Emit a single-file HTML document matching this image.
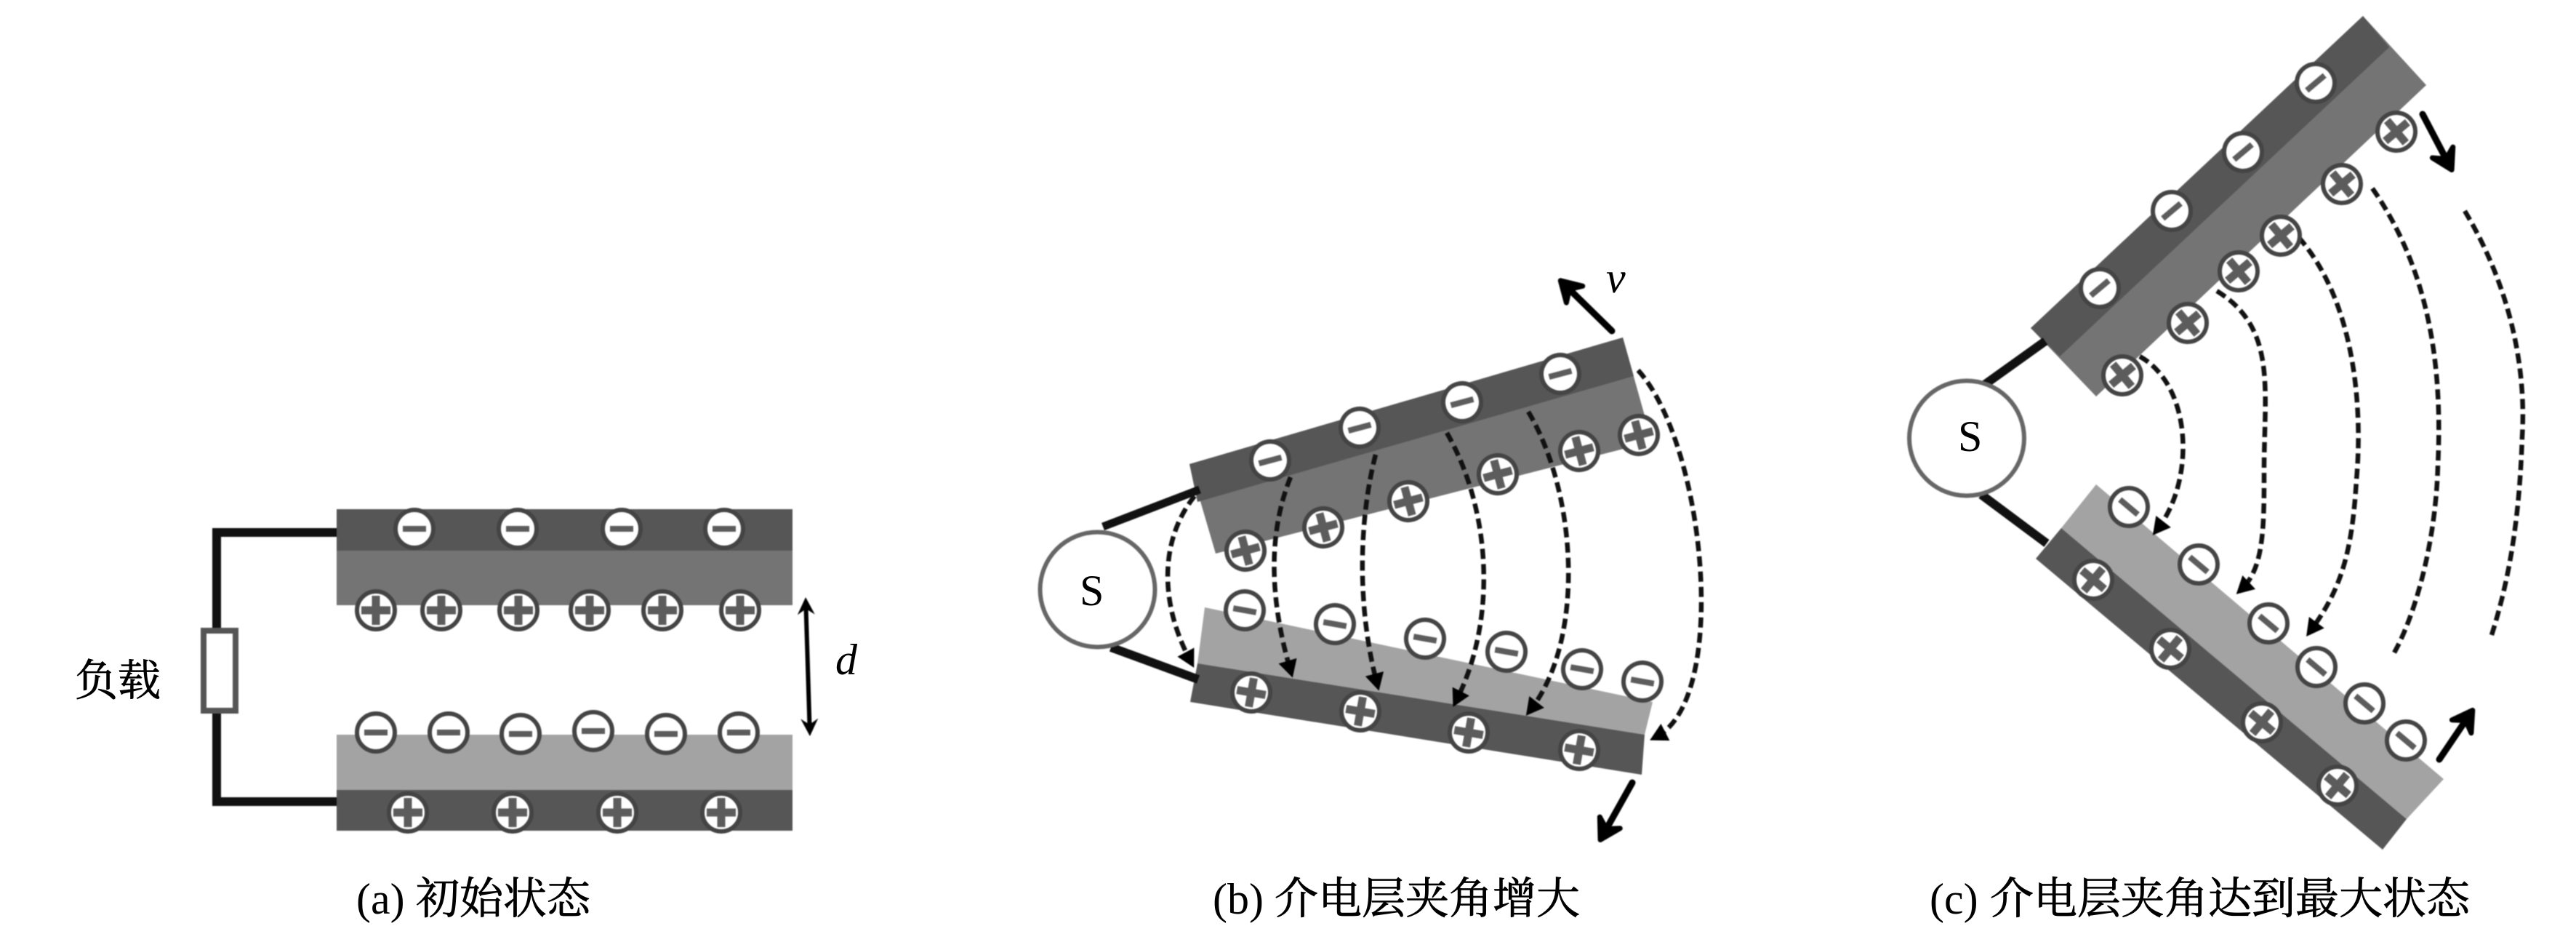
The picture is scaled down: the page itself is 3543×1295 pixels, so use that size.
<!DOCTYPE html>
<html lang="zh"><head><meta charset="utf-8"><title>介电层夹角</title>
<style>
html,body{margin:0;padding:0;background:#fff;width:3543px;height:1295px;overflow:hidden}
svg{display:block}
text{font-family:"Liberation Serif","Noto Serif CJK SC",serif;fill:#000}
.c{stroke:#000;stroke-width:.8px}
.d{fill:none;stroke:#111;stroke-width:6.500;stroke-dasharray:14 7}
.w{stroke:#111;fill:none}
.a{stroke:#000;stroke-width:9;fill:none;stroke-linecap:round}
.g{filter:blur(.7px)}
</style></head><body>
<svg width="3543" height="1295" viewBox="0 0 3543 1295" xmlns="http://www.w3.org/2000/svg">
<defs>
<marker id="t" viewBox="-28 -16 30 32" refX="-10" refY="0" markerWidth="30" markerHeight="32" markerUnits="userSpaceOnUse" orient="auto"><path d="M-24 -13L0 0L-24 13Z" fill="#000"/></marker>
<marker id="h" viewBox="-38 -24 42 48" refX="-12" refY="0" markerWidth="42" markerHeight="48" markerUnits="userSpaceOnUse" orient="auto"><path d="M-31 -16L-4 0L-31 16L-21 0Z" fill="#000" stroke="#000" stroke-width="7" stroke-linejoin="round"/></marker>
<marker id="h2" viewBox="-28 -16 30 32" refX="-8" refY="0" markerWidth="30" markerHeight="32" markerUnits="userSpaceOnUse" orient="auto-start-reverse"><path d="M-24 -12L0 0L-24 12L-16 0Z" fill="#000"/></marker>
<g id="m"><circle r="26" fill="#fff" stroke="#444" stroke-width="6"/><rect x="-16" y="-4" width="32" height="8" fill="#5c5c5c"/></g>
<g id="p"><circle r="26" fill="#fff" stroke="#444" stroke-width="6"/><rect x="-20" y="-5.500" width="40" height="11" fill="#5c5c5c"/><rect x="-5.500" y="-20" width="11" height="40" fill="#5c5c5c"/></g>
</defs>
<rect width="3543" height="1295" fill="#fff"/>

<!-- Panel a -->
<g class="g">
<path class="w" d="M463 732H298V863M298 981V1102H463" stroke-width="12"/>
<rect x="292" y="726" width="171" height="12" fill="#111"/>
<rect x="292" y="1096" width="171" height="12" fill="#111"/>
<rect x="280" y="867" width="44" height="110" fill="#fff" stroke="#555" stroke-width="8"/>
<rect x="463" y="700" width="627" height="57" fill="#565656"/>
<rect x="463" y="757" width="627" height="75" fill="#747474"/>
<rect x="463" y="1010" width="627" height="76" fill="#a3a3a3"/>
<rect x="463" y="1086" width="627" height="56" fill="#565656"/>
<use href="#m" x="570" y="727"/><use href="#m" x="712" y="727"/><use href="#m" x="855" y="727"/><use href="#m" x="996" y="727"/>
<use href="#p" x="517" y="839"/><use href="#p" x="607" y="839"/><use href="#p" x="713" y="839"/><use href="#p" x="811" y="839"/><use href="#p" x="911" y="839"/><use href="#p" x="1018" y="839"/>
<use href="#m" x="517" y="1007"/><use href="#m" x="617" y="1007"/><use href="#m" x="716" y="1009"/><use href="#m" x="816" y="1005"/><use href="#m" x="916" y="1009"/><use href="#m" x="1016" y="1007"/>
<use href="#p" x="561" y="1117"/><use href="#p" x="705" y="1117"/><use href="#p" x="849" y="1117"/><use href="#p" x="992" y="1117"/>
<path d="M1108.300 829L1113.700 1004" stroke="#000" stroke-width="6" fill="none" marker-start="url(#h2)" marker-end="url(#h2)"/>
</g>
<text x="1149" y="927" font-size="60" font-style="italic">d</text>
<text class="c" x="103" y="956" font-size="59">负载</text>
<text x="490" y="1256" font-size="60">(a)</text>
<text class="c" x="572" y="1256" font-size="60">初始状态</text>

<!-- Panel b -->
<g class="g">
<polygon points="1636,638 2232,464 2272,607 1672,761" fill="#747474"/>
<polygon points="1636,638 2232,464 2247,517 1647,690" fill="#565656"/>
<polygon points="1657,835 2273,965 2262,1010 1647,912" fill="#a3a3a3"/>
<polygon points="1647,912 2262,1010 2258,1065 1637,965" fill="#565656"/>
<line class="w" x1="1517" y1="724" x2="1650" y2="673" stroke-width="11"/>
<line class="w" x1="1528" y1="890" x2="1648" y2="934" stroke-width="12"/>
<circle cx="1509.500" cy="810.500" r="79" fill="#fff" stroke="#666" stroke-width="6"/>
<path class="d" d="M1643 682C1600 735 1590 820 1637.500 909" marker-end="url(#t)"/>
<path class="d" d="M1775 656C1745 730 1745 820 1775 922" marker-end="url(#t)"/>
<path class="d" d="M1892 625C1870 710 1865 830 1894 940" marker-end="url(#t)"/>
<path class="d" d="M1990 595C2050 700 2060 850 2003 963" marker-end="url(#t)"/>
<path class="d" d="M2102 566C2170 680 2180 880 2105 976" marker-end="url(#t)"/>
<path class="d" d="M2253 509C2345 610 2380 960 2278 1013" marker-end="url(#t)"/>
<g transform="translate(1747 633) rotate(-15)"><use href="#m"/></g>
<g transform="translate(1870 588) rotate(-15)"><use href="#m"/></g>
<g transform="translate(2011 553) rotate(-15)"><use href="#m"/></g>
<g transform="translate(2146 514) rotate(-15)"><use href="#m"/></g>
<g transform="translate(1713 757) rotate(-15)"><use href="#p"/></g>
<g transform="translate(1820 725) rotate(-15)"><use href="#p"/></g>
<g transform="translate(1937 689) rotate(-15)"><use href="#p"/></g>
<g transform="translate(2060 652) rotate(-15)"><use href="#p"/></g>
<g transform="translate(2172 620) rotate(-15)"><use href="#p"/></g>
<g transform="translate(2254 598) rotate(-15)"><use href="#p"/></g>
<g transform="translate(1712 839) rotate(10)"><use href="#m"/></g>
<g transform="translate(1836 858) rotate(10)"><use href="#m"/></g>
<g transform="translate(1960 878) rotate(10)"><use href="#m"/></g>
<g transform="translate(2072 896) rotate(10)"><use href="#m"/></g>
<g transform="translate(2176 920) rotate(10)"><use href="#m"/></g>
<g transform="translate(2259 937) rotate(10)"><use href="#m"/></g>
<g transform="translate(1721 952) rotate(10)"><use href="#p"/></g>
<g transform="translate(1871 978) rotate(10)"><use href="#p"/></g>
<g transform="translate(2020 1007) rotate(10)"><use href="#p"/></g>
<g transform="translate(2172 1031) rotate(10)"><use href="#p"/></g>
<line class="a" x1="2217" y1="455" x2="2152" y2="391.400" marker-end="url(#h)"/>
<line class="a" x1="2245" y1="1076" x2="2205" y2="1147.500" marker-end="url(#h)"/>
</g>
<text x="1485" y="832" font-size="60">S</text>
<text x="2209" y="402" font-size="60" font-style="italic">v</text>
<text x="1668" y="1256" font-size="60">(b)</text>
<text class="c" x="1753" y="1256" font-size="60">介电层夹角增大</text>

<!-- Panel c -->
<g class="g">
<polygon points="2793,451 3250,22 3337,117 2883,545" fill="#747474"/>
<polygon points="2793,451 3250,22 3286,65 2833,490" fill="#565656"/>
<polygon points="2883,666 3361,1071 3310,1126 2835,726" fill="#a3a3a3"/>
<polygon points="2835,726 3310,1126 3277,1168 2800,768" fill="#565656"/>
<line class="w" x1="2725" y1="532" x2="2813" y2="469" stroke-width="12"/>
<line class="w" x1="2725" y1="680" x2="2815" y2="747" stroke-width="12"/>
<circle cx="2705" cy="602.500" r="79" fill="#fff" stroke="#666" stroke-width="6"/>
<path class="d" d="M2943 490C3015 530 3020 660 2967 728" marker-end="url(#t)"/>
<path class="d" d="M3049 400C3130 450 3115 530 3114 640C3114 720 3115 780 3083 810" marker-end="url(#t)"/>
<path class="d" d="M3147 311C3240 400 3250 560 3241 660C3235 760 3220 810 3178 867" marker-end="url(#t)"/>
<path class="d" d="M3263 259C3340 370 3360 500 3353 640C3350 750 3320 850 3292 899"/>
<path class="d" d="M3390 290C3450 390 3475 500 3469 600C3465 720 3450 800 3427 873"/>
<g transform="translate(2888 396) rotate(-40)"><use href="#m"/></g>
<g transform="translate(2987 290) rotate(-40)"><use href="#m"/></g>
<g transform="translate(3085 209) rotate(-40)"><use href="#m"/></g>
<g transform="translate(3185 114) rotate(-40)"><use href="#m"/></g>
<g transform="translate(2919 516) rotate(-40)"><use href="#p"/></g>
<g transform="translate(3009 444) rotate(-40)"><use href="#p"/></g>
<g transform="translate(3079 373) rotate(-40)"><use href="#p"/></g>
<g transform="translate(3137 324) rotate(-40)"><use href="#p"/></g>
<g transform="translate(3221 253) rotate(-40)"><use href="#p"/></g>
<g transform="translate(3296 181) rotate(-40)"><use href="#p"/></g>
<g transform="translate(2928 697) rotate(40)"><use href="#m"/></g>
<g transform="translate(3024 776) rotate(40)"><use href="#m"/></g>
<g transform="translate(3120 857) rotate(40)"><use href="#m"/></g>
<g transform="translate(3186 917) rotate(40)"><use href="#m"/></g>
<g transform="translate(3252 967) rotate(40)"><use href="#m"/></g>
<g transform="translate(3309 1018) rotate(40)"><use href="#m"/></g>
<g transform="translate(2879 797) rotate(40)"><use href="#p"/></g>
<g transform="translate(2985 892) rotate(40)"><use href="#p"/></g>
<g transform="translate(3111 993) rotate(40)"><use href="#p"/></g>
<g transform="translate(3215 1080) rotate(40)"><use href="#p"/></g>
<line class="a" x1="3332" y1="157" x2="3368.400" y2="226.400" marker-end="url(#h)"/>
<line class="a" x1="3355" y1="1044" x2="3396.300" y2="983" marker-end="url(#h)"/>
</g>
<text x="2693" y="620" font-size="60">S</text>
<text x="2654" y="1256" font-size="60">(c)</text>
<text class="c" x="2737" y="1256" font-size="60">介电层夹角达到最大状态</text>
</svg>
</body></html>
